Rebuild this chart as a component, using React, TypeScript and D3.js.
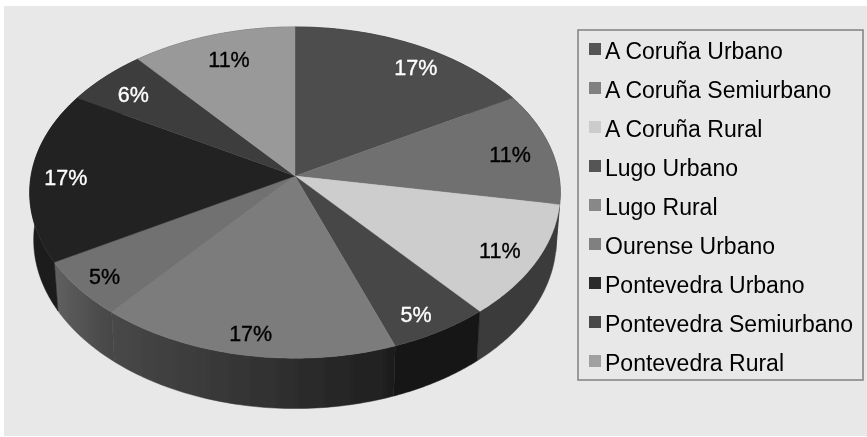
import { useEffect, useRef } from "react"
import * as d3 from "d3"

const categories = ["A Coruña Urbano", "A Coruña Semiurbano", "A Coruña Rural", "Lugo Urbano", "Lugo Rural", "Ourense Urbano", "Pontevedra Urbano", "Pontevedra Semiurbano", "Pontevedra Rural"]
const shares = [16.7, 11.1, 11.1, 5.6, 16.7, 5.6, 16.7, 5.6, 11.1]
const labels = ["17%", "11%", "11%", "5%", "17%", "5%", "17%", "6%", "11%"]

const topColors = ["#4d4d4d", "#707070", "#cdcdcd", "#474747", "#7b7b7b", "#717171", "#222222", "#3d3d3d", "#999999"]
const sideFrom = ["#2a2a2a", "#3a3a3a", "#3a3a3a", "#141414", "#1e1e1e", "#454545", "#1c1c1c", "#222222", "#555555"]
const sideTo = ["#2a2a2a", "#3a3a3a", "#3a3a3a", "#141414", "#484848", "#606060", "#1c1c1c", "#222222", "#555555"]
const swatches = ["#555555", "#808080", "#cccccc", "#555555", "#888888", "#808080", "#2a2a2a", "#4a4a4a", "#a0a0a0"]
const labelColors = ["#fff", "#000", "#000", "#fff", "#000", "#000", "#fff", "#fff", "#000"]
const labelNudge = [[22, -2], [10, 2], [14, 7], [7, 17], [-5, 18], [-20, 12], [-18, 2], [-8, -1], [1, -1]]

const W = 867, H = 437
const FONT = "'Liberation Sans', Arial, sans-serif"

// the rim is a circle seen in perspective, so the hub is not the ellipse centre
const K = 0.1
const top = { cx: 295, cy: 176, rx: 264, ry: 164 }
const low = { cx: 295, cy: 223, rx: 260, ry: 167 }
const project = (e: typeof top, a: number, r = 1): [number, number] => {
  const w = 1 / (1 + K * r * Math.cos(a))
  return [e.cx + e.rx * r * Math.sin(a) * w, e.cy - e.ry * r * Math.cos(a) * w]
}
const arcAngles = (a0: number, a1: number) => d3.range(0, 61).map(i => a0 + (a1 - a0) * i / 60)

export default function App() {
  const ref = useRef<SVGSVGElement>(null)
  useEffect(() => {
    if (!ref.current) return
    d3.select(ref.current).selectAll("*").remove()
    const svg = d3.select(ref.current)
    document.body.style.margin = "0"

    const defs = svg.append("defs")
    defs.append("filter").attr("id", "soft").attr("x", 0).attr("y", 0).attr("width", 1).attr("height", 1)
      .append("feGaussianBlur").attr("stdDeviation", 0.45)

    const root = svg.append("g").attr("filter", "url(#soft)")
    root.append("rect").attr("x", 4).attr("y", 6).attr("width", W - 4).attr("height", 430).attr("fill", "#e8e8e8")

    const arcs = d3.pie<number>().sort(null).startAngle(0).endAngle(2 * Math.PI)(shares)
    const line = d3.line()

    // sides first, the top face hides whatever sits behind it
    const sides = root.append("g")
    arcs.forEach((d, i) => {
      const ang = arcAngles(d.startAngle, d.endAngle)
      const outline = [...ang.map(a => project(top, a)), ...ang.slice().reverse().map(a => project(low, a))]
      const id = `side${i}`
      const xs = outline.map(p => p[0])
      const grad = defs.append("linearGradient").attr("id", id).attr("gradientUnits", "userSpaceOnUse")
        .attr("x1", d3.max(xs)!).attr("x2", d3.min(xs)!).attr("y1", 0).attr("y2", 0)
      grad.append("stop").attr("offset", 0).attr("stop-color", sideFrom[i])
      grad.append("stop").attr("offset", 1).attr("stop-color", sideTo[i])
      sides.append("path").attr("d", line(outline) + "Z").attr("fill", `url(#${id})`).attr("stroke", `url(#${id})`).attr("stroke-width", 0.5)
    })

    const faces = root.append("g")
    arcs.forEach((d, i) => {
      const pts: [number, number][] = [[top.cx, top.cy], ...arcAngles(d.startAngle, d.endAngle).map(a => project(top, a))]
      faces.append("path").attr("d", line(pts) + "Z").attr("fill", topColors[i]).attr("stroke", topColors[i]).attr("stroke-width", 0.4)
    })

    arcs.forEach((d, i) => {
      const [x, y] = project(top, (d.startAngle + d.endAngle) / 2, 0.8)
      root.append("text").attr("x", x + labelNudge[i][0]).attr("y", y + labelNudge[i][1])
        .attr("text-anchor", "middle").attr("dominant-baseline", "central")
        .style("font-family", FONT).style("font-size", "21.5px").style("fill", labelColors[i])
        .style("stroke", labelColors[i]).style("stroke-width", 0.35).text(labels[i])
    })

    const lg = root.append("g")
    lg.append("rect").attr("x", 578).attr("y", 30).attr("width", 285).attr("height", 350)
      .attr("fill", "none").attr("stroke", "#808080").attr("stroke-width", 1.5)
    const row = d3.scalePoint<string>().domain(categories).range([49, 361])
    categories.forEach((c, i) => {
      const cy = row(c)!
      lg.append("rect").attr("x", 589).attr("y", cy - 6).attr("width", 12).attr("height", 12).attr("fill", swatches[i])
      lg.append("text").attr("x", 605).attr("y", cy + 10)
        .style("font-family", FONT).style("font-size", "23px").style("fill", "#000").text(c)
    })
  }, [])
  return <svg ref={ref} width={W} height={H} style={{ display: "block" }} />
}
